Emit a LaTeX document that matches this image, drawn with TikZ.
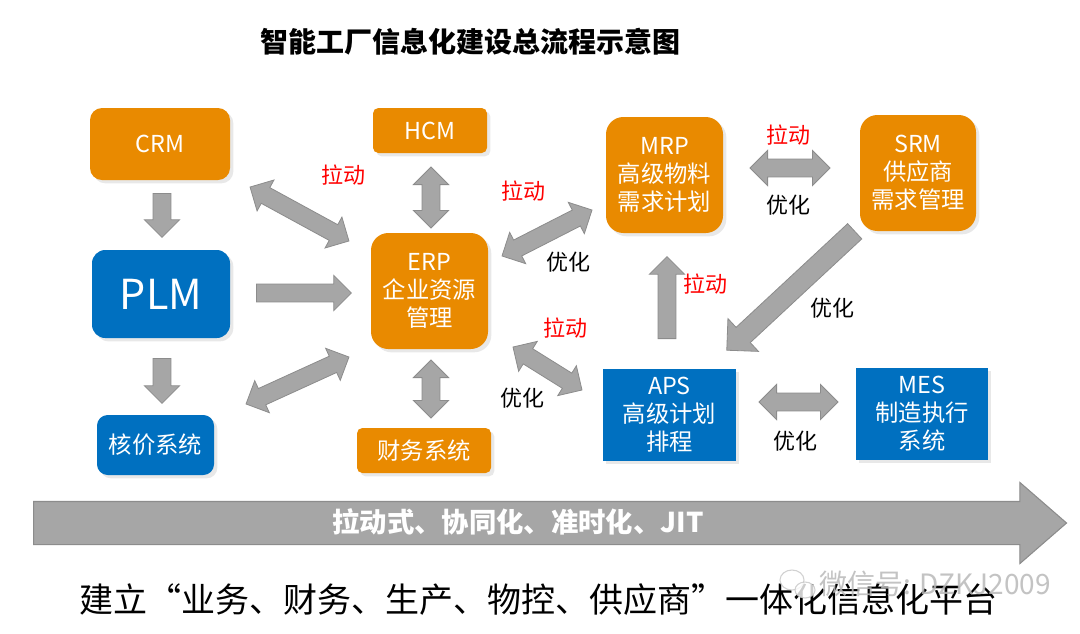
\documentclass[tikz,border=0pt]{standalone}
\usepackage{fontspec}
\setmainfont{Noto Sans CJK SC}
\usetikzlibrary{shapes.arrows,calc,shadows}
\definecolor{org}{HTML}{E98A00}
\definecolor{blu}{HTML}{0070C0}
\definecolor{arfill}{HTML}{A6A6A6}
\definecolor{ardraw}{HTML}{8C8C8C}
\definecolor{lblred}{HTML}{FF0000}
\newcommand\blockarrow[3]{%
  \path let \p1=(#2), \p2=(#3), \n1={atan2(\y2-\y1,\x2-\x1)}, \n2={veclen(\x2-\x1,\y2-\y1)} in
    node[#1, minimum height=\n2, rotate=\n1] at ($(\p1)!0.5!(\p2)$) {};}
\newcommand\singlearrow[3]{%
  \path let \p1=(#2), \p2=(#3), \n1={atan2(\y2-\y1,\x2-\x1)}, \n2={veclen(\x2-\x1,\y2-\y1)} in
    node[#1, minimum height=\n2, rotate=\n1, anchor=tail] at (\p1) {};}
\tikzset{
  sbox/.style={text=white, align=center, inner sep=0pt, font=\fontsize{17.5}{21}\selectfont,
    drop shadow={opacity=0.18, shadow xshift=2.5pt, shadow yshift=-2.5pt}},
  obox/.style={sbox, fill=org},
  bbox/.style={sbox, fill=blu},
  sarrow/.style={single arrow, fill=arfill, draw=ardraw, line width=0.6pt, inner xsep=0pt, inner ysep=6.4pt,
    minimum width=0pt, single arrow head extend=6.5pt, single arrow tip angle=90},
  darrow/.style={double arrow, fill=arfill, draw=ardraw, line width=0.6pt, inner xsep=0pt, inner ysep=6.4pt,
    minimum width=0pt, double arrow head extend=6.5pt, double arrow tip angle=90},
  redlbl/.style={text=lblred, font=\fontsize{16.5}{19}\selectfont, inner sep=1pt},
  blklbl/.style={text=black, font=\fontsize{16.5}{19}\selectfont, inner sep=1pt},
}
\begin{document}
\begin{tikzpicture}[x=0.75pt,y=-0.75pt]
\useasboundingbox[fill=white] (0,0) rectangle (1080,633);

% title
\node[font=\fontsize{21}{24}\selectfont\bfseries] (title) at (470,42) {智能工厂信息化建设总流程示意图};

% boxes
\node[obox, rounded corners=9pt, minimum width=105pt, minimum height=54pt] (crm) at (160,144) {CRM};
\node[bbox, rounded corners=10pt, minimum width=103.5pt, minimum height=66pt, font=\fontsize{31}{34}\selectfont] (plm) at (161,294) {PLM};
\node[bbox, rounded corners=8pt, minimum width=87.75pt, minimum height=45pt] (hj) at (155.5,445) {核价系统};
\node[obox, rounded corners=4pt, minimum width=85.5pt, minimum height=33.75pt] (hcm) at (430,130.5) {HCM};
\node[obox, rounded corners=13pt, minimum width=87.75pt, minimum height=87pt] (erp) at (429.5,291) {ERP\\企业资源\\管理};
\node[obox, rounded corners=4pt, minimum width=100.5pt, minimum height=33.75pt] (cw) at (424,450.5) {财务系统};
\node[obox, rounded corners=13pt, minimum width=87.75pt, minimum height=87pt] (mrp) at (664.5,175) {MRP\\高级物料\\需求计划};
\node[obox, rounded corners=13pt, minimum width=87pt, minimum height=87pt] (srm) at (918,173) {SRM\\供应商\\需求管理};
\node[bbox, minimum width=99.75pt, minimum height=69pt] (aps) at (669.5,415) {APS\\高级计划\\排程};
\node[bbox, minimum width=99pt, minimum height=69pt] (mes) at (922,414) {MES\\制造执行\\系统};

% arrow end points
\coordinate (a1s) at (162,193); \coordinate (a1e) at (162,237);
\coordinate (a2s) at (162,358); \coordinate (a2e) at (162,403);
\coordinate (a3s) at (256,293); \coordinate (a3e) at (351,293);
\coordinate (a4s) at (250,187); \coordinate (a4e) at (349,241);
\coordinate (a5s) at (246,404); \coordinate (a5e) at (349,357);
\coordinate (a6s) at (431,167); \coordinate (a6e) at (431,228);
\coordinate (a7s) at (431,360); \coordinate (a7e) at (431,418);
\coordinate (a8s) at (502,256); \coordinate (a8e) at (592,210);
\coordinate (a9s) at (513,347); \coordinate (a9e) at (582,390);
\coordinate (b1s) at (750,168); \coordinate (b1e) at (830,168);
\coordinate (b2s) at (855,231); \coordinate (b2e) at (727,350);
\coordinate (b3s) at (667,339); \coordinate (b3e) at (667,257);
\coordinate (b4s) at (759,402); \coordinate (b4e) at (838,402);

\singlearrow{sarrow}{a1s}{a1e}
\singlearrow{sarrow}{a2s}{a2e}
\singlearrow{sarrow}{a3s}{a3e}
\blockarrow{darrow}{a4s}{a4e}
\blockarrow{darrow}{a5s}{a5e}
\blockarrow{darrow}{a6s}{a6e}
\blockarrow{darrow}{a7s}{a7e}
\blockarrow{darrow}{a8s}{a8e}
\blockarrow{darrow}{a9s}{a9e}
\blockarrow{darrow}{b1s}{b1e}
\singlearrow{sarrow, inner ysep=7.5pt, single arrow head extend=9pt}{b2s}{b2e}
\singlearrow{sarrow}{b3s}{b3e}
\blockarrow{darrow}{b4s}{b4e}

% labels
\node[redlbl] (l1) at (343,175) {拉动};
\node[redlbl] (l2) at (523,191) {拉动};
\node[redlbl] (l3) at (565,328) {拉动};
\node[redlbl] (l4) at (705,284) {拉动};
\node[redlbl] (l5) at (788,135) {拉动};
\node[blklbl] (o1) at (568,262) {优化};
\node[blklbl] (o2) at (522,398) {优化};
\node[blklbl] (o3) at (788,205) {优化};
\node[blklbl] (o4) at (832,308) {优化};
\node[blklbl] (o5) at (795,441) {优化};

% big bottom arrow
\coordinate (bigs) at (33,523);
\coordinate (bige) at (1066,523);
\singlearrow{single arrow, fill=arfill, draw=ardraw, line width=0.8pt, inner xsep=0pt, inner ysep=15.75pt, minimum width=0pt, single arrow head extend=14.25pt, single arrow tip angle=82}{bigs}{bige}
\node[text=white, font=\fontsize{20.5}{23}\selectfont\bfseries] (bigt) at (518,522) {拉动式、协同化、准时化、JIT};

% bottom text
\node[font=\fontsize{25.5}{28}\selectfont] (bottom) at (538,600) {建立“业务、财务、生产、物控、供应商”一体化信息化平台};

% watermark
\begin{scope}[draw=gray!45, line width=0.8pt, opacity=0.8]
  \draw (792,580) ellipse [x radius=12, y radius=10];
  \draw[fill=white] (805,590) ellipse [x radius=10, y radius=8];
\end{scope}
\node[text=gray!55, opacity=0.85, font=\fontsize{21}{24}\selectfont, anchor=west] (wm) at (815,584) {微信号: DZKJ2009};
\end{tikzpicture}
\end{document}
